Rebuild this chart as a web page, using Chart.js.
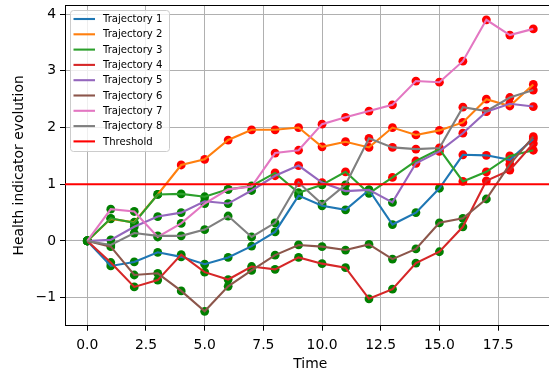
<!DOCTYPE html>
<html>
<head>
<meta charset="utf-8">
<script src="https://cdn.jsdelivr.net/npm/chart.js@4.4.0/dist/chart.umd.min.js"></script>
<style>
  html, body { margin: 0; padding: 0; background: #ffffff; overflow: hidden; }
  #wrap { width: 549px; height: 371px; overflow: hidden; position: relative; }
  canvas { display: block; }
</style>
</head>
<body>
<div id="wrap"><canvas id="chart" width="560" height="371" style="width:560px;height:371px"></canvas></div>
<script>
// Time steps and the eight simulated health-indicator trajectories
const times = [0, 1, 2, 3, 4, 5, 6, 7, 8, 9, 10, 11, 12, 13, 14, 15, 16, 17, 18, 19];

const trajectory1 = [0, -0.44, -0.37, -0.20, -0.28, -0.41, -0.29, -0.09, 0.16, 0.80, 0.62, 0.55, 0.90, 0.29, 0.50, 0.93, 1.52, 1.51, 1.43, 1.80];
const trajectory2 = [0, 0.39, 0.33, 0.82, 1.34, 1.44, 1.78, 1.96, 1.96, 2.00, 1.66, 1.75, 1.65, 2.00, 1.87, 1.95, 2.09, 2.50, 2.38, 2.76];
const trajectory3 = [0, 0.40, 0.32, 0.82, 0.83, 0.78, 0.91, 0.97, 1.20, 0.85, 0.99, 1.22, 0.84, 1.12, 1.41, 1.62, 1.05, 1.22, 1.50, 1.60];
const trajectory4 = [0, -0.38, -0.81, -0.69, -0.24, -0.55, -0.68, -0.45, -0.50, -0.29, -0.40, -0.47, -1.02, -0.85, -0.39, -0.19, 0.25, 1.06, 1.25, 1.72];
const trajectory5 = [0, 0.02, 0.25, 0.43, 0.50, 0.70, 0.66, 0.89, 1.15, 1.33, 1.03, 0.88, 0.90, 0.68, 1.37, 1.58, 1.90, 2.28, 2.42, 2.37];
const trajectory6 = [0, -0.10, -0.60, -0.57, -0.88, -1.24, -0.80, -0.52, -0.25, -0.07, -0.10, -0.16, -0.06, -0.32, -0.14, 0.32, 0.40, 0.74, 1.35, 1.84];
const trajectory7 = [0, 0.56, 0.52, 0.07, 0.31, 0.66, 0.91, 0.96, 1.55, 1.60, 2.06, 2.18, 2.29, 2.40, 2.82, 2.80, 3.17, 3.90, 3.63, 3.74];
const trajectory8 = [0, -0.07, 0.14, 0.09, 0.09, 0.20, 0.44, 0.07, 0.32, 1.03, 0.65, 0.99, 1.81, 1.65, 1.62, 1.64, 2.36, 2.29, 2.53, 2.66];

const seriesLabels = ['Trajectory 1', 'Trajectory 2', 'Trajectory 3', 'Trajectory 4',
                      'Trajectory 5', 'Trajectory 6', 'Trajectory 7', 'Trajectory 8'];
const threshold = 1;

const xTicks = [0, 2.5, 5, 7.5, 10, 12.5, 15, 17.5];
const yTicks = [-1, 0, 1, 2, 3, 4];

// Axis bounds (data range padded by 5% on each side)
const xMin = -0.95, xMax = 19.95;
const yMin = -1.494, yMax = 4.161;

const lineColors = ['#1f77b4', '#ff7f0e', '#2ca02c', '#d62728', '#9467bd', '#8c564b', '#e377c2', '#7f7f7f'];
const ABOVE = '#ff0000', BELOW = '#008000';
const FONT = 'DejaVu Sans';

const allSeries = [trajectory1, trajectory2, trajectory3, trajectory4,
                   trajectory5, trajectory6, trajectory7, trajectory8];

const toPoints = vals => times.map((t, i) => ({ x: t, y: vals[i] }));

const datasets = [];
// markers: red above threshold, green otherwise, drawn beneath every line
allSeries.forEach((vals, k) => {
  datasets.push({
    type: 'line',
    label: '__markers' + k,
    data: toPoints(vals),
    showLine: false,
    pointRadius: 4.4,
    pointHoverRadius: 4.4,
    pointBorderWidth: 0,
    pointBackgroundColor: vals.map(v => v > threshold ? ABOVE : BELOW),
    pointBorderColor: vals.map(v => v > threshold ? ABOVE : BELOW),
    order: 100
  });
});
// trajectory lines, later series on top
allSeries.forEach((vals, k) => {
  datasets.push({
    type: 'line',
    label: seriesLabels[k],
    data: toPoints(vals),
    borderColor: lineColors[k],
    backgroundColor: lineColors[k],
    borderWidth: 2.1,
    pointRadius: 0,
    tension: 0,
    fill: false,
    order: 50 - k
  });
});
// threshold line across the full axis width
datasets.push({
  type: 'line',
  label: 'Threshold',
  data: [{ x: xMin, y: threshold }, { x: xMax, y: threshold }],
  borderColor: '#ff0000',
  backgroundColor: '#ff0000',
  borderWidth: 2.1,
  pointRadius: 0,
  order: 0
});

// top frame line of the axes box
const framePlugin = {
  id: 'frame',
  afterDatasetsDraw(chart) {
    const { ctx, chartArea: a } = chart;
    ctx.save();
    ctx.strokeStyle = '#000000';
    ctx.lineWidth = 1;
    ctx.beginPath();
    ctx.moveTo(a.left, Math.round(a.top) + 0.5);
    ctx.lineTo(a.right, Math.round(a.top) + 0.5);
    ctx.stroke();
    ctx.restore();
  }
};

// boxed legend in the upper-left corner of the axes
const legendPlugin = {
  id: 'boxLegend',
  afterDraw(chart) {
    const { ctx, chartArea: a } = chart;
    const items = chart.data.datasets.filter(d => !d.label.startsWith('__'));
    const boxX = a.left + 5, boxY = a.top + 5;
    const boxW = 99, rowH = 15.3, boxH = 141;
    ctx.save();
    ctx.beginPath();
    ctx.roundRect(boxX + 0.5, boxY + 0.5, boxW, boxH, 3);
    ctx.fillStyle = 'rgba(255,255,255,0.8)';
    ctx.fill();
    ctx.strokeStyle = '#cccccc';
    ctx.lineWidth = 1;
    ctx.stroke();
    ctx.font = '10.1px "' + FONT + '"';
    ctx.textBaseline = 'middle';
    ctx.textAlign = 'left';
    items.forEach((d, i) => {
      const cy = boxY + 9 + i * rowH;
      ctx.strokeStyle = d.borderColor;
      ctx.lineWidth = 2.1;
      ctx.beginPath();
      ctx.moveTo(boxX + 3.5, cy);
      ctx.lineTo(boxX + 25, cy);
      ctx.stroke();
      ctx.fillStyle = '#000000';
      ctx.fillText(d.label, boxX + 33, cy + 0.5);
    });
    ctx.restore();
  }
};

new Chart(document.getElementById('chart'), {
  type: 'line',
  data: { datasets },
  options: {
    responsive: false,
    animation: false,
    devicePixelRatio: 1,
    layout: { padding: { left: 0, top: 5, right: 2.5, bottom: 0 } },
    plugins: {
      legend: { display: false },
      tooltip: { enabled: false }
    },
    scales: {
      x: {
        type: 'linear',
        min: xMin,
        max: xMax,
        afterBuildTicks: s => { s.ticks = xTicks.map(v => ({ value: v })); },
        afterFit: s => { s.height = 45.3; s.paddingLeft = 0; s.paddingRight = 0; },
        ticks: {
          autoSkip: false,
          maxRotation: 0,
          padding: 6,
          color: '#000000',
          font: { family: FONT, size: 13.9 },
          callback: v => v.toFixed(1)
        },
        grid: { color: '#b0b0b0', lineWidth: 1, tickLength: 5, tickColor: '#000000' },
        border: { display: true, color: '#000000', width: 1 },
        title: {
          display: true,
          text: 'Time',
          color: '#000000',
          font: { family: FONT, size: 13.9 },
          padding: { top: 0, bottom: -2 }
        }
      },
      y: {
        type: 'linear',
        min: yMin,
        max: yMax,
        afterBuildTicks: s => { s.ticks = yTicks.map(v => ({ value: v })); },
        afterFit: s => { s.width = 65; s.paddingTop = 0; s.paddingBottom = 0; },
        ticks: {
          autoSkip: false,
          padding: 4,
          color: '#000000',
          font: { family: FONT, size: 13.9 },
          callback: v => (v < 0 ? '\u2212' + Math.abs(v) : String(v))
        },
        grid: { color: '#b0b0b0', lineWidth: 1, tickLength: 5, tickColor: '#000000' },
        border: { display: true, color: '#000000', width: 1 },
        title: {
          display: true,
          text: 'Health indicator evolution',
          color: '#000000',
          font: { family: FONT, size: 13.9 },
          padding: { top: 11, bottom: 0 }
        }
      }
    }
  },
  plugins: [framePlugin, legendPlugin]
});
</script>
</body>
</html>
